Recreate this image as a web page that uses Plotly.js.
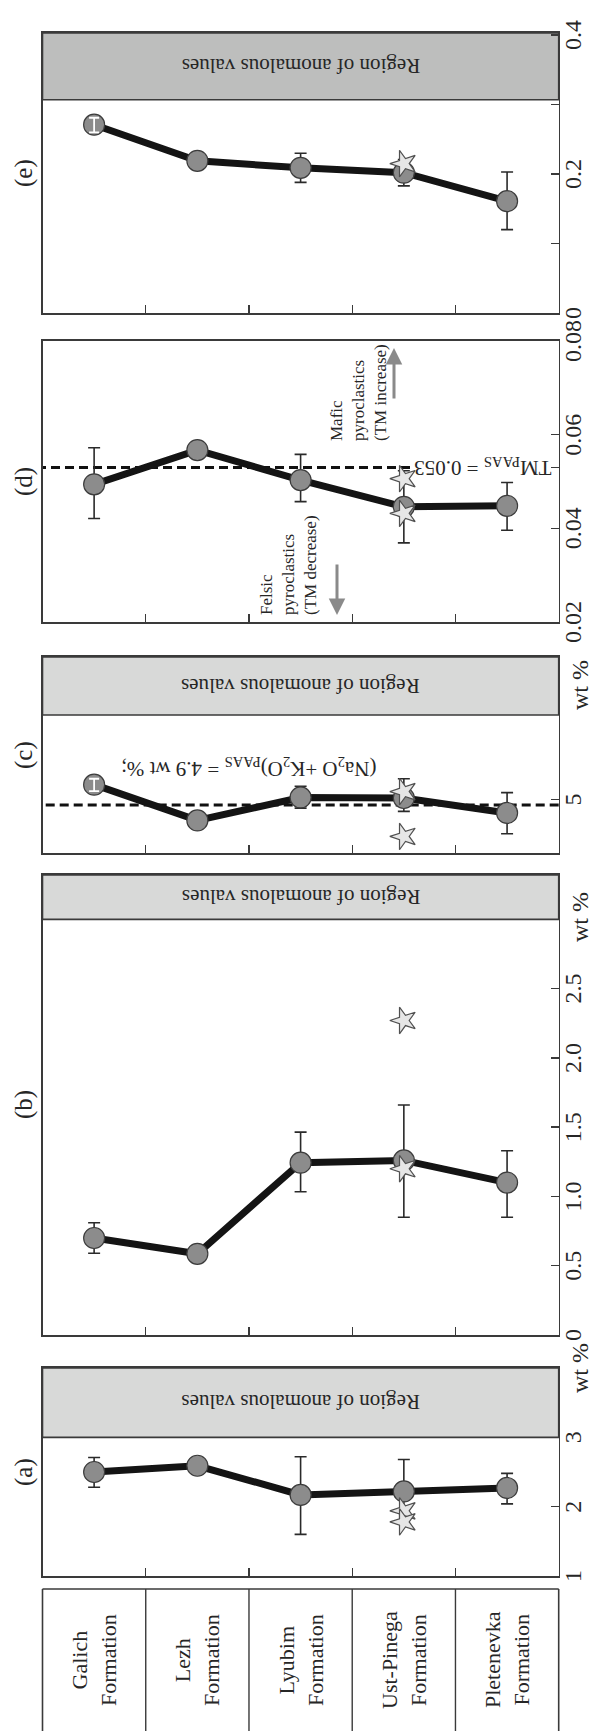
<!DOCTYPE html>
<html><head><meta charset="utf-8">
<script src="https://cdn.plot.ly/plotly-3.0.1.min.js"></script>
<style>
html,body{margin:0;padding:0;background:#fff;overflow:hidden;width:594px;height:1731px;}
#wrap{position:absolute;left:0;top:0;width:1731px;height:594px;transform-origin:0 0;transform:translate(0px,1731px) rotate(-90deg);}
</style></head><body>
<div id="wrap"><div id="chart" style="width:1731px;height:594px"></div></div>
<script>
// ---------- data ----------
const categories = ["Galich Formation","Lezh Formation","Lyubim Formation","Ust-Pinega Formation","Pletenevka Formation"];
const panelLabels = ["(a)","(b)","(c)","(d)","(e)"];

const a_val = [2.50, 2.59, 2.17, 2.22, 2.27];
const a_errPlus = [0.21, 0, 0.55, 0.46, 0.21];
const a_errMinus = [0.22, 0, 0.57, 0.46, 0.23];
const a_star = [1.94, 1.78];
const a_anomalous = [3, 4];

const b_val = [0.70, 0.586, 1.244, 1.26, 1.10];
const b_errPlus = [0.11, 0, 0.22, 0.40, 0.23];
const b_errMinus = [0.11, 0, 0.21, 0.41, 0.25];
const b_star = [2.27, 1.20];
const b_anomalous = [3.0, 3.32];

const c_val = [5.28, 4.61, 5.04, 5.03, 4.75];
const c_errPlus = [0.11, 0, 0.21, 0.36, 0.38];
const c_errMinus = [0.12, 0, 0.20, 0.25, 0.39];
const c_star = [5.15, 4.31];
const c_ref = 4.9;
const c_anomalous = [6.585, 7.67];

const d_val = [0.0494, 0.0567, 0.0503, 0.0446, 0.0448];
const d_errPlus = [0.0078, 0, 0.0055, 0.0077, 0.0050];
const d_errMinus = [0.0073, 0, 0.0046, 0.0077, 0.0052];
const d_star = [0.0506, 0.0432];
const d_ref = 0.053;

const e_val = [0.271, 0.219, 0.209, 0.202, 0.161];
const e_errPlus = [0.010, 0, 0.021, 0.019, 0.042];
const e_errMinus = [0.011, 0, 0.021, 0.019, 0.041];
const e_star = [0.215];
const e_anomalous = [0.307, 0.403];

const a_ticks = [1, 2, 3, 4];       const a_tickText = ["1","2","3",""];
const b_ticks = [0, 0.5, 1, 1.5, 2, 2.5, 3]; const b_tickText = ["0","0.5","1.0","1.5","2.0","2.5",""];
const c_ticks = [5];                const c_tickText = ["5"];
const d_ticks = [0.02, 0.04, 0.053, 0.06, 0.08]; const d_tickText = ["0.02","0.04","","0.06","0.08"];
const e_ticks = [0, 0.1, 0.2, 0.3, 0.4]; const e_tickText = ["0","","0.2","","0.4"];

// ---------- geometry (landscape, then rotated) ----------
const W = 1731, H = 594;
const FONT = "'Liberation Serif', 'Times New Roman', serif";
const TXT = "#262626", LINE = "#3a3a3a";
const yDom = [1 - 558.7/H, 1 - 42.5/H];
const panelPx = [[155,363],[396,856],[878,1074],[1109,1390],[1418,1698]];
const ranges = [[1,4],[0,3.32],[4.0,7.67],[0.02,0.08],[0,0.403]];

const panels = [
  {val:a_val, ep:a_errPlus, em:a_errMinus, star:a_star, ticks:a_ticks, tt:a_tickText, anom:a_anomalous, fill:"#d8d9d8", white:false},
  {val:b_val, ep:b_errPlus, em:b_errMinus, star:b_star, ticks:b_ticks, tt:b_tickText, anom:b_anomalous, fill:"#d8d9d8", white:false},
  {val:c_val, ep:c_errPlus, em:c_errMinus, star:c_star, ticks:c_ticks, tt:c_tickText, anom:c_anomalous, fill:"#d8d9d8", white:true},
  {val:d_val, ep:d_errPlus, em:d_errMinus, star:d_star, ticks:d_ticks, tt:d_tickText, anom:null, fill:null, white:false},
  {val:e_val, ep:e_errPlus, em:e_errMinus, star:e_star, ticks:e_ticks, tt:e_tickText, anom:e_anomalous, fill:"#bdbebd", white:true}
];

const traces = [], shapes = [], annotations = [];
const layout = {
  width: W, height: H, margin:{l:0,r:0,t:0,b:0},
  paper_bgcolor:"#fff", plot_bgcolor:"#fff", showlegend:false,
  font:{family:FONT, color:TXT}
};

function note(o) {
  return Object.assign({showarrow:false, xanchor:"center", yanchor:"middle"}, o);
}

panels.forEach((p, i) => {
  const n = i + 1;
  const xa = "x" + n, ya = "y" + n;
  const xk = n === 1 ? "xaxis" : "xaxis" + n;
  const yk = n === 1 ? "yaxis" : "yaxis" + n;
  layout[xk] = {
    domain:[panelPx[i][0]/W, panelPx[i][1]/W], range: ranges[i], anchor: ya,
    showline:true, mirror:true, linecolor:LINE, linewidth:1.6,
    ticks:"inside", ticklen:8, tickwidth:1.4, tickcolor:LINE,
    tickmode:"array", tickvals:p.ticks, ticktext:p.tt, ticklabelstandoff:-8,
    tickfont:{family:FONT, size:24, color:TXT},
    showgrid:false, zeroline:false, fixedrange:true
  };
  layout[yk] = {
    domain:yDom, anchor: xa, type:"category", categoryorder:"array", categoryarray:categories,
    range:[4.5,-0.5], showline:true, mirror:true, linecolor:LINE, linewidth:1.6,
    ticks:"inside", tickson:"boundaries", ticklen:8, tickwidth:1.4, tickcolor:LINE,
    showticklabels:false, showgrid:false, zeroline:false, fixedrange:true
  };
  const ep = p.ep.slice(), em = p.em.slice();
  if (p.white) { ep[0] = 0; em[0] = 0; }
  traces.push({
    type:"scatter", mode:"lines+markers", x:p.val, y:categories, xaxis:xa, yaxis:ya,
    line:{color:"#141414", width:7},
    marker:{size:21, color:"#8c8c8c", line:{color:"#3c3c3c", width:1.2}},
    error_x:{type:"data", symmetric:false, array:ep, arrayminus:em, color:"#2a2a2a", thickness:1.6, width:6},
    hoverinfo:"skip"
  });
  if (p.white) {
    traces.push({
      type:"scatter", mode:"markers", x:[p.val[0]], y:[categories[0]], xaxis:xa, yaxis:ya,
      marker:{size:1, color:"rgba(0,0,0,0)"},
      error_x:{type:"data", symmetric:false, array:[p.ep[0]], arrayminus:[p.em[0]], color:"#ffffff", thickness:1.8, width:5},
      hoverinfo:"skip"
    });
  }
  traces.push({
    type:"scatter", mode:"markers", x:p.star, y:p.star.map(() => categories[3]), xaxis:xa, yaxis:ya,
    marker:{symbol:"star", size:20, color:"#e6e6e6", line:{color:"#505050", width:1.2}},
    hoverinfo:"skip"
  });
  if (p.anom) {
    shapes.push({type:"rect", layer:"below", xref:xa, yref:ya + " domain",
      x0:p.anom[0], x1:p.anom[1], y0:0, y1:1, fillcolor:p.fill, line:{color:LINE, width:1.6}});
    annotations.push(note({xref:xa, yref:"paper", x:(p.anom[0]+p.anom[1])/2, y:(yDom[0]+yDom[1])/2,
      text:"Region of anomalous values", textangle:-90,
      font:{family:FONT, size:21, color:TXT}}));
  }
  // panel label
  annotations.push(note({xref:"paper", yref:"paper", x:(panelPx[i][0]+panelPx[i][1])/2/W, y:1 - 24/H,
    text:panelLabels[i], font:{family:FONT, size:25, color:TXT}}));
});

// "wt %" unit labels on the value axes
const unitPos = [["x1", 4.0], ["x2", 3.02], ["x3", 7.14]];
unitPos.forEach(u => annotations.push(note({xref:u[0], yref:"paper", x:u[1], y:1 - 580/H,
  text:"wt %", font:{family:FONT, size:24, color:TXT}})));

// reference lines
shapes.push({type:"line", layer:"below", xref:"x3", yref:"y3 domain", x0:c_ref, x1:c_ref, y0:0, y1:1,
  line:{color:"#111", width:3, dash:"9px,5px"}});
shapes.push({type:"line", layer:"below", xref:"x4", yref:"paper", x0:d_ref, x1:d_ref, y0:1 - 410/H, y1:yDom[1],
  line:{color:"#111", width:3, dash:"9px,5px"}});
annotations.push(note({xref:"x3", yref:"paper", x:5.6, y:1 - 249/H, textangle:-90,
  text:"(Na<sub>2</sub>O +K<sub>2</sub>O)<sub>PAAS</sub> = " + c_ref + " wt %;", font:{family:FONT, size:21, color:TXT}}));
annotations.push(note({xref:"x4", yref:"paper", x:d_ref, y:1 - 483/H, textangle:-90,
  text:"TM<sub>PAAS</sub> = " + d_ref.toFixed(3), font:{family:FONT, size:21, color:TXT}}));

// felsic / mafic notes with arrows
annotations.push(note({xref:"paper", yref:"paper", x:1114/W, y:1 - 288/H, xanchor:"left", align:"left",
  text:"Felsic<br>pyroclastics<br>(TM decrease)", font:{family:FONT, size:17, color:TXT}}));
annotations.push({xref:"paper", yref:"paper", x:1116/W, y:1 - 337/H, ax:52, ay:0, text:"", showarrow:true,
  arrowcolor:"#8a8a8a", arrowwidth:3, arrowhead:2, arrowsize:1.1});
annotations.push(note({xref:"paper", yref:"paper", x:1288/W, y:1 - 358/H, xanchor:"left", align:"left",
  text:"Mafic<br>pyroclastics<br>(TM increase)", font:{family:FONT, size:17, color:TXT}}));
annotations.push({xref:"paper", yref:"paper", x:1383/W, y:1 - 394/H, ax:-52, ay:0, text:"", showarrow:true,
  arrowcolor:"#8a8a8a", arrowwidth:3, arrowhead:2, arrowsize:1.1});

// category table
const boxR = 142/W;
const yTop = yDom[1], yBot = yDom[0], step = (yTop - yBot)/categories.length;
shapes.push({type:"line", xref:"paper", yref:"paper", x0:0, x1:boxR, y0:yTop, y1:yTop, line:{color:LINE, width:1.6}});
shapes.push({type:"line", xref:"paper", yref:"paper", x0:0, x1:boxR, y0:yBot, y1:yBot, line:{color:LINE, width:1.6}});
shapes.push({type:"line", xref:"paper", yref:"paper", x0:boxR, x1:boxR, y0:yBot, y1:yTop, line:{color:LINE, width:1.6}});
for (let k = 1; k < categories.length; k++) {
  const yy = yTop - k*step;
  shapes.push({type:"line", xref:"paper", yref:"paper", x0:0, x1:boxR, y0:yy, y1:yy, line:{color:LINE, width:1.4}});
}
categories.forEach(c => annotations.push(note({xref:"paper", yref:"y", x:71/W, y:c,
  text:c.replace(" ", "<br>"), font:{family:FONT, size:22, color:TXT}})));

layout.shapes = shapes;
layout.annotations = annotations;
Plotly.newPlot("chart", traces, layout, {staticPlot:true, displayModeBar:false});
</script>
</body></html>
